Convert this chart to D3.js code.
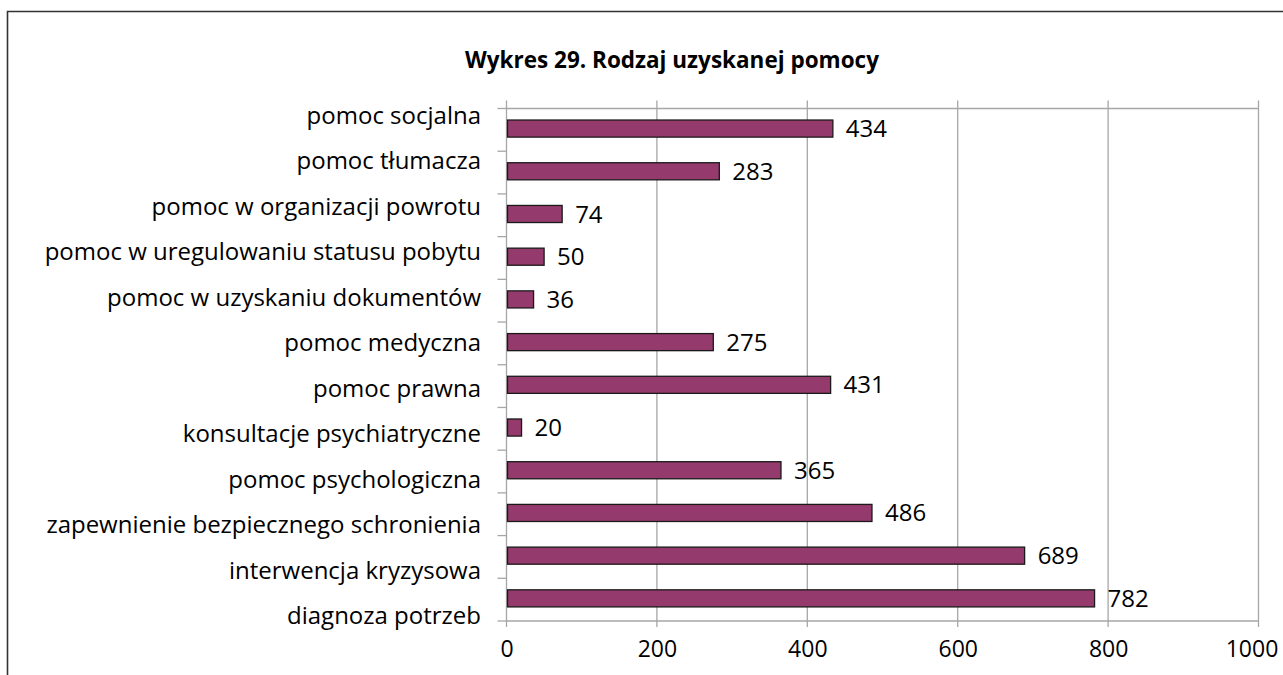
<!DOCTYPE html>
<html>
<head>
<meta charset="utf-8">
<script src="https://cdn.jsdelivr.net/npm/d3@7"></script>
<style>
  body { margin: 0; background: #fff; }
  svg { display: block; }
  text { font-family: "Open Sans", "DejaVu Sans", sans-serif; fill: #000; }
</style>
</head>
<body>
<svg class="chart" width="1283" height="675"></svg>
<script>
var title = "Wykres 29. Rodzaj uzyskanej pomocy"
var categories = [
  "pomoc socjalna",
  "pomoc tłumacza",
  "pomoc w organizacji powrotu",
  "pomoc w uregulowaniu statusu pobytu",
  "pomoc w uzyskaniu dokumentów",
  "pomoc medyczna",
  "pomoc prawna",
  "konsultacje psychiatryczne",
  "pomoc psychologiczna",
  "zapewnienie bezpiecznego schronienia",
  "interwencja kryzysowa",
  "diagnoza potrzeb"
]
var values = [434, 283, 74, 50, 36, 275, 431, 20, 365, 486, 689, 782]
var xTicks = [0, 200, 400, 600, 800, 1000]

var plot = {left: 506.5, right: 1258.5, top: 108.5, bottom: 621}
var svg = d3.select(".chart")

// outer frame (top and left edge only visible)
svg.append("path")
  .attr("d", "M7.5,675 V11.5 H1283")
  .attr("fill", "none")
  .attr("stroke", "#333")
  .attr("stroke-width", 1.6)

svg.append("text")
  .attr("x", 672)
  .attr("y", 68)
  .attr("text-anchor", "middle")
  .attr("font-size", "22.5px")
  .attr("font-weight", "bold")
  .text(title)

var xScale = d3.scaleLinear()
  .domain([0, 1000])
  .range([plot.left, plot.right])

var bandScale = d3.scaleBand()
  .domain(categories)
  .range([plot.top, plot.bottom])

var barScale = d3.scaleBand()
  .domain(categories)
  .range([plot.top, plot.bottom])
  .paddingInner(0.6)
  .paddingOuter(0.3)
  .align(0.45)

// labels in the source sit on a slightly wider spacing than the bands
var labelScale = d3.scalePoint()
  .domain(categories)
  .range([124, 624])

var grid = svg.append("g").attr("class", "grid")
grid.selectAll("line.v")
  .data(xTicks)
  .enter().append("line")
  .attr("class", "v")
  .attr("x1", d => xScale(d)).attr("x2", d => xScale(d))
  .attr("y1", plot.top - 8).attr("y2", plot.bottom + 6)
  .attr("stroke", "#a6a6a6").attr("stroke-width", 1.3)

grid.selectAll("line.h")
  .data([plot.top, plot.bottom])
  .enter().append("line")
  .attr("class", "h")
  .attr("x1", plot.left).attr("x2", plot.right)
  .attr("y1", d => d).attr("y2", d => d)
  .attr("stroke", "#a6a6a6").attr("stroke-width", 1.3)

var boundaries = categories.map(c => bandScale(c)).concat([plot.bottom])
grid.selectAll("line.t")
  .data(boundaries)
  .enter().append("line")
  .attr("class", "t")
  .attr("x1", plot.left - 9).attr("x2", plot.left)
  .attr("y1", d => d).attr("y2", d => d)
  .attr("stroke", "#a6a6a6").attr("stroke-width", 1.3)

// x tick labels
svg.append("g")
  .attr("transform", "translate(0," + plot.bottom + ")")
  .call(d3.axisBottom(xScale).tickValues(xTicks).tickFormat(d3.format("d")).tickSize(0).tickPadding(0))
  .call(g => g.select(".domain").remove())
  .selectAll("text")
  .attr("y", 35.5)
  .attr("dy", null)
  .attr("dx", d => d === 1000 ? -7 : 0)
  .attr("font-family", null)
  .attr("font-size", "23px")
  .attr("fill", "#000")

// category labels
svg.append("g")
  .selectAll("text")
  .data(categories)
  .enter().append("text")
  .attr("x", 481)
  .attr("y", d => labelScale(d))
  .attr("text-anchor", "end")
  .attr("font-size", "24px")
  .text(d => d)

var bars = svg.append("g")
bars.selectAll("rect")
  .data(values)
  .enter().append("rect")
  .attr("x", xScale(0) + 1)
  .attr("y", (d, i) => barScale(categories[i]))
  .attr("width", d => xScale(d) - xScale(0) - 1)
  .attr("height", barScale.bandwidth())
  .attr("fill", "#953a6c")
  .attr("stroke", "#1a1a1a")
  .attr("stroke-width", 1.3)

bars.selectAll("text")
  .data(values)
  .enter().append("text")
  .attr("x", d => xScale(d) + 13)
  .attr("y", (d, i) => barScale(categories[i]) + barScale.bandwidth())
  .attr("font-size", "24px")
  .text(d => d)
</script>
</body>
</html>
